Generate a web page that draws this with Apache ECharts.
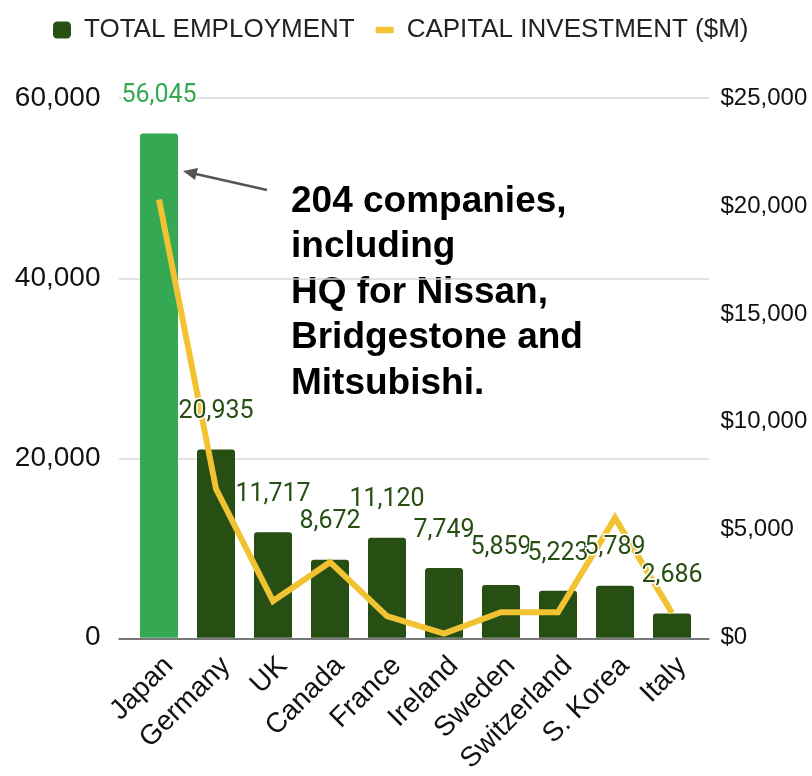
<!DOCTYPE html>
<html>
<head>
<meta charset="utf-8">
<script src="https://cdn.jsdelivr.net/npm/echarts@6/dist/echarts.min.js"></script>
<style>
html, body { margin: 0; padding: 0; background: #fff; }
#chart { width: 812px; height: 776px; }
</style>
</head>
<body>
<div id="chart"></div>
<script>
// ==============================================================
// data
// ==============================================================
var countries = ['Japan', 'Germany', 'UK', 'Canada', 'France', 'Ireland', 'Sweden', 'Switzerland', 'S. Korea', 'Italy'];
var employment = [56045, 20935, 11717, 8672, 11120, 7749, 5859, 5223, 5789, 2686];
var investment = [20300, 6900, 1700, 3500, 1000, 190, 1180, 1180, 5550, 1150];
var leftTicks = [0, 20000, 40000, 60000];
var rightTicks = [0, 5000, 10000, 15000, 20000, 25000];
var noteLines = ['204 companies,', 'including', 'HQ for Nissan,', 'Bridgestone and', 'Mitsubishi.'];

var DARK = '#274e13', LIGHT = '#34a853', GOLD = '#f1c232';

function fmt(v) {
    return String(v).replace(/\B(?=(\d{3})+(?!\d))/g, ',');
}

// Japan bar is highlighted
var barData = employment.map(function (v, i) {
    return i === 0 ? { value: v, itemStyle: { color: LIGHT } } : v;
});
var labelData = employment.map(function (v, i) {
    return { value: v, label: { color: i === 0 ? LIGHT : DARK } };
});

var chart = echarts.init(document.getElementById('chart'));
option = {
    animation: false
    , legend: {
        left: 48
        , top: 12
        , itemWidth: 18
        , itemHeight: 17
        , itemGap: 21
        , textStyle: {
            fontFamily: 'Liberation Sans, Arial'
            , fontSize: 26
            , color: '#222'
            , padding: [0, 0, 0, 8]
        }
        , data: [
            { name: 'TOTAL EMPLOYMENT', icon: 'roundRect' }
            , { name: 'CAPITAL INVESTMENT ($M)', icon: 'path://M0,0h17v6h-17z' }
        ]
    }
    , grid: [
        { left: 130.5, right: 111.5, top: 98, bottom: 137 }
        , { left: 119, right: 103, top: 98, bottom: 137 }
    ]
    , xAxis: [
        {
            type: 'category'
            , gridIndex: 0
            , data: countries
            , axisLine: { show: false }
            , axisTick: { show: false }
            , axisLabel: {
                rotate: 45
                , margin: 14
                , interval: 0
                , verticalAlign: 'top'
                , fontFamily: 'Liberation Sans, Arial'
                , fontSize: 28
                , color: '#111'
            }
        }
        , {
            type: 'value'
            , gridIndex: 1
            , min: 0
            , max: 1
            , axisLine: { show: true, lineStyle: { color: '#555', width: 1.5 } }
            , axisTick: { show: false }
            , axisLabel: { show: false }
            , splitLine: { show: false }
        }
    ]
    , yAxis: [
        {
            type: 'value'
            , gridIndex: 0
            , min: leftTicks[0]
            , max: leftTicks[leftTicks.length - 1]
            , interval: leftTicks[1] - leftTicks[0]
            , axisLine: { show: false }
            , splitLine: { show: false }
            , axisLabel: {
                margin: 30
                , fontFamily: 'Liberation Sans, Arial'
                , fontSize: 28
                , color: '#111'
                , formatter: function (v) { return fmt(v); }
            }
        }
        , {
            type: 'value'
            , gridIndex: 0
            , position: 'right'
            , min: rightTicks[0]
            , max: rightTicks[rightTicks.length - 1]
            , interval: rightTicks[1] - rightTicks[0]
            , axisLine: { show: false }
            , splitLine: { show: false }
            , axisLabel: {
                margin: 20
                , fontFamily: 'Liberation Sans, Arial'
                , fontSize: 24
                , color: '#111'
                , formatter: function (v) { return '$' + fmt(v); }
            }
        }
        , {
            // grid lines only, spanning a little wider than the bars
            type: 'value'
            , gridIndex: 1
            , min: leftTicks[0]
            , max: leftTicks[leftTicks.length - 1]
            , interval: leftTicks[1] - leftTicks[0]
            , axisLine: { show: false }
            , axisTick: { show: false }
            , axisLabel: { show: false }
            , splitLine: { show: true, lineStyle: { color: '#d9d9d9', width: 1.5 } }
        }
    ]
    , series: [
        {
            name: 'TOTAL EMPLOYMENT'
            , type: 'bar'
            , xAxisIndex: 0
            , yAxisIndex: 0
            , barWidth: 38
            , z: 2
            , itemStyle: { color: DARK, borderRadius: [3, 3, 0, 0] }
            , data: barData
        }
        , {
            name: 'CAPITAL INVESTMENT ($M)'
            , type: 'line'
            , xAxisIndex: 0
            , yAxisIndex: 1
            , z: 3
            , symbol: 'none'
            , lineStyle: { color: GOLD, width: 6, join: 'miter', cap: 'butt' }
            , itemStyle: { color: GOLD }
            , data: investment
        }
        , {
            // labels above everything, like the source
            name: 'labels'
            , type: 'bar'
            , xAxisIndex: 0
            , yAxisIndex: 0
            , barWidth: 38
            , barGap: '-100%'
            , silent: true
            , z: 5
            , itemStyle: { color: 'rgba(0,0,0,0)' }
            , label: {
                show: true
                , position: 'top'
                , distance: 25
                , fontFamily: 'Roboto'
                , fontSize: 25
                , textBorderColor: '#fff'
                , textBorderWidth: 3
                , formatter: function (p) { return fmt(p.value); }
            }
            , data: labelData
        }
    ]
    , graphic: [
        {
            type: 'line'
            , shape: { x1: 267, y1: 190, x2: 196, y2: 174 }
            , style: { stroke: '#555', lineWidth: 2.5 }
        }
        , {
            type: 'polygon'
            , shape: { points: [[183, 171], [198, 168], [195, 180]] }
            , style: { fill: '#555' }
        }
        , {
            type: 'text'
            , left: 291
            , top: 179
            , style: {
                text: noteLines.join('\n')
                , fontFamily: 'Liberation Sans, Arial'
                , fontWeight: 'bold'
                , fontSize: 37
                , lineHeight: 45.5
                , fill: '#000'
            }
        }
    ]
};
chart.setOption(option, true);
</script>
</body>
</html>
